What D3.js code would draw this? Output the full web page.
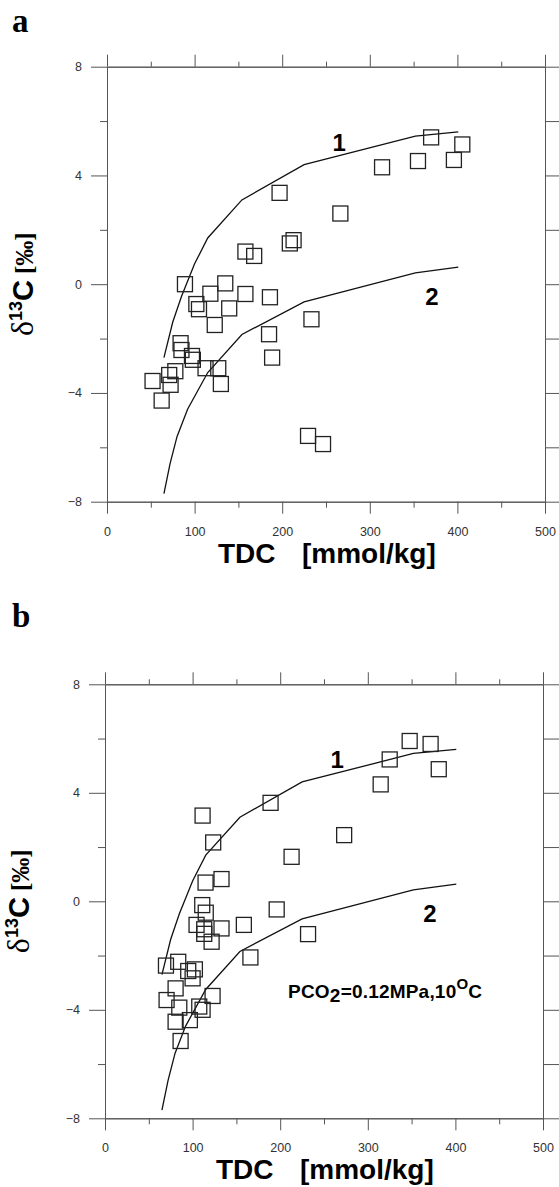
<!DOCTYPE html>
<html>
<head>
<meta charset="utf-8">
<script src="https://cdn.jsdelivr.net/npm/d3@7"></script>
<style>
body { margin: 0; background: #fff; }
svg { display: block; }
.axis path, .axis line { stroke: #555; stroke-width: 1; }
.axis text { font-family: "Liberation Sans", Arial, sans-serif; font-size: 12.5px; fill: #333; }
.curve { fill: none; stroke: #111; stroke-width: 1.3; }
.sample { fill: none; stroke: #222; stroke-width: 1.3; }
</style>
</head>
<body>
<div id="chart"></div>
<script>
// axis ticks
var tdcTicks = [0, 100, 200, 300, 400, 500];
var tdcMinor = [50, 150, 250, 350, 450];
var d13cTicks = [-8, -4, 0, 4, 8];
var d13cMinor = [-6, -2, 2, 6];

// model curves (same in both panels)
var curve1Tdc = [65, 75, 85, 100, 115, 154, 225, 352, 401];
var curve1D13c = [-2.7, -1.4, -0.45, 0.75, 1.7, 3.1, 4.4, 5.45, 5.6];
var curve2Tdc = [65, 72, 80, 92, 115, 154, 225, 352, 401];
var curve2D13c = [-7.7, -6.6, -5.6, -4.6, -3.25, -1.85, -0.65, 0.42, 0.63];

// panel a samples
var sampleATdc = [89, 158, 168, 135, 118, 197, 186, 102, 105, 158, 139.5, 123, 185, 188.5, 84, 85, 97, 98,
  112.5, 127, 130, 52, 71, 78, 72.6, 62.4, 233.4, 229.5, 246.6, 370, 405.6, 355, 396, 314, 266.4, 208.7, 213];
var sampleAD13c = [0.0, 1.2, 1.04, 0.03, -0.35, 3.36, -0.48, -0.73, -0.92, -0.36, -0.89, -1.5, -1.84, -2.7, -2.17, -2.42, -2.64, -2.78,
  -3.09, -3.09, -3.67, -3.56, -3.34, -3.2, -3.7, -4.28, -1.29, -5.58, -5.88, 5.4, 5.14, 4.53, 4.57, 4.3, 2.6, 1.5, 1.62];

// panel b samples
var sampleBTdc = [111.4, 123.5, 189, 347.8, 371.7, 325, 381, 314.7, 273, 213, 114.8, 133, 111, 115, 104.5, 113.3, 113.3, 133,
  121.7, 158.5, 166, 196, 69.6, 83.6, 95, 102.6, 100, 80.6, 70.3, 84.8, 122.8, 107.6, 111.4, 80.6, 96.9, 86.3, 231.8];
var sampleBD13c = [3.16, 2.17, 3.63, 5.91, 5.8, 5.23, 4.87, 4.31, 2.44, 1.64, 0.69, 0.82, -0.14, -0.42, -0.87, -1.03, -1.2, -1.0,
  -1.49, -0.87, -2.07, -0.3, -2.37, -2.23, -2.57, -2.51, -2.84, -3.21, -3.64, -3.92, -3.49, -3.88, -4.0, -4.44, -4.38, -5.15, -1.21];

var width = 559, height = 1187;

var svg = d3.select("#chart").append("svg")
  .attr("width", width)
  .attr("height", height);

svg.append("rect").attr("width", width).attr("height", height).attr("fill", "#fff");

function panel(opts) {
  var chartWidth = 438, chartHeight = opts.h;

  var xScale = d3.scaleLinear().domain([0, 500]).range([0, chartWidth]);
  var yScale = d3.scaleLinear().domain([-8, 8]).range([chartHeight, 0]);

  var g = svg.append("g")
    .attr("transform", `translate(${opts.left}, ${opts.top})`);

  // panel letter
  svg.append("text")
    .attr("x", 12)
    .attr("y", opts.letterY)
    .attr("font-family", "'Liberation Serif', 'Times New Roman', serif")
    .attr("font-weight", "bold")
    .attr("font-size", 33)
    .text(opts.letter);

  // axes: major + minor ticks, outward
  g.append("g").attr("class", "axis")
    .call(d3.axisTop(xScale).tickValues(tdcTicks).tickSize(12).tickSizeOuter(0).tickFormat(""));
  g.append("g").attr("class", "axis")
    .call(d3.axisTop(xScale).tickValues(tdcMinor).tickSize(5).tickSizeOuter(0).tickFormat(""));

  g.append("g").attr("class", "axis")
    .attr("transform", `translate(0,${chartHeight})`)
    .call(d3.axisBottom(xScale).tickValues(tdcTicks).tickSize(12).tickSizeOuter(0).tickPadding(13));
  g.append("g").attr("class", "axis")
    .attr("transform", `translate(0,${chartHeight})`)
    .call(d3.axisBottom(xScale).tickValues(tdcMinor).tickSize(6).tickSizeOuter(0).tickFormat(""));

  g.append("g").attr("class", "axis")
    .call(d3.axisLeft(yScale).tickValues(d13cTicks).tickSize(16).tickSizeOuter(0).tickPadding(9));
  g.append("g").attr("class", "axis")
    .call(d3.axisLeft(yScale).tickValues(d13cMinor).tickSize(7).tickSizeOuter(0).tickFormat(""));

  g.append("g").attr("class", "axis")
    .attr("transform", `translate(${chartWidth},0)`)
    .call(d3.axisRight(yScale).tickValues(d13cTicks.concat(d13cMinor)).tickSize(16).tickSizeOuter(0).tickFormat(""));

  // curves
  var line = d3.line().x(d => xScale(d[0])).y(d => yScale(d[1]));
  var c1 = curve1Tdc.map((t, i) => [t, curve1D13c[i]]);
  var c2 = curve2Tdc.map((t, i) => [t, curve2D13c[i]]);
  g.append("path").attr("class", "curve").attr("d", line(c1));
  g.append("path").attr("class", "curve").attr("d", line(c2));

  // curve labels
  g.append("text")
    .attr("x", xScale(265)).attr("y", yScale(4.9))
    .attr("text-anchor", "middle")
    .attr("font-family", "'Liberation Sans', Arial, sans-serif")
    .attr("font-weight", "bold").attr("font-size", 24)
    .text("1");
  g.append("text")
    .attr("x", xScale(371)).attr("y", yScale(-0.75))
    .attr("text-anchor", "middle")
    .attr("font-family", "'Liberation Sans', Arial, sans-serif")
    .attr("font-weight", "bold").attr("font-size", 24)
    .text("2");

  // samples
  var pts = opts.tdc.map((t, i) => [t, opts.d13c[i]]);
  g.selectAll(".sample")
    .data(pts)
    .enter()
    .append("rect")
    .attr("class", "sample")
    .attr("x", d => xScale(d[0]) - 7.5)
    .attr("y", d => yScale(d[1]) - 7.5)
    .attr("width", 15)
    .attr("height", 15);

  // x title
  var xt = g.append("g")
    .attr("font-family", "'Liberation Sans', Arial, sans-serif")
    .attr("font-weight", "bold")
    .attr("font-size", 28);
  xt.append("text").attr("x", 111).attr("y", chartHeight + 61).text("TDC");
  xt.append("text").attr("x", 195).attr("y", chartHeight + 61).text("[mmol/kg]");

  // y title
  var yt = g.append("text")
    .attr("transform", `translate(${opts.titleX}, ${chartHeight / 2}) rotate(-90)`)
    .attr("text-anchor", "middle");
  yt.append("tspan")
    .attr("font-family", "'Liberation Serif', 'Times New Roman', serif")
    .attr("font-size", 32)
    .text("δ");
  yt.append("tspan")
    .attr("font-family", "'Liberation Sans', Arial, sans-serif")
    .attr("font-weight", "bold")
    .attr("font-size", 18)
    .attr("dy", -11)
    .text("13");
  yt.append("tspan")
    .attr("font-family", "'Liberation Sans', Arial, sans-serif")
    .attr("font-weight", "bold")
    .attr("font-size", 29)
    .attr("dy", 11)
    .text("C");
  yt.append("tspan")
    .attr("font-family", "'Liberation Serif', 'Times New Roman', serif")
    .attr("font-weight", "bold")
    .attr("font-size", 25)
    .attr("dx", 6)
    .text("[‰]");

  return {g: g, x: xScale, y: yScale};
}

var pa = panel({letter: "a", letterY: 32, left: 107, top: 66.7, h: 435, titleX: -74,
  tdc: sampleATdc, d13c: sampleAD13c});
var pb = panel({letter: "b", letterY: 627, left: 105, top: 684.3, h: 434, titleX: -76,
  tdc: sampleBTdc, d13c: sampleBD13c});

// conditions note in panel b
var note = pb.g.append("text")
  .attr("x", pb.x(209))
  .attr("y", pb.y(-3.56))
  .attr("font-family", "'Liberation Sans', Arial, sans-serif")
  .attr("font-weight", "bold")
  .attr("font-size", 19)
  .attr("letter-spacing", 0.2);
note.append("tspan").text("PCO");
note.append("tspan").attr("dy", 4).text("2");
note.append("tspan").attr("dy", -4).text("=0.12MPa,10");
note.append("tspan").attr("dy", -9).attr("font-size", 15).text("O");
note.append("tspan").attr("dy", 9).text("C");
</script>
</body>
</html>
